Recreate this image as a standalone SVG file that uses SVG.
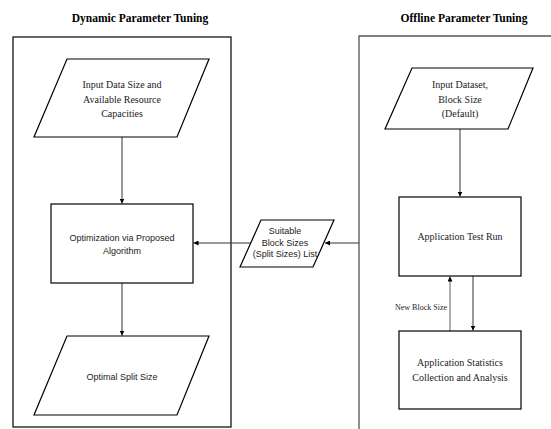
<svg xmlns="http://www.w3.org/2000/svg" width="551" height="429" viewBox="0 0 551 429">
<style>
.title{font-family:"Liberation Serif",serif;font-weight:bold;font-size:11.5px;fill:#000;text-anchor:middle}
.serif{font-family:"Liberation Serif",serif;font-size:10px;fill:#222;text-anchor:middle}
.sans{font-family:"Liberation Sans",sans-serif;font-size:9px;fill:#222;text-anchor:middle}
.shape{fill:#fff;stroke:#000;stroke-width:1.2}
.line{stroke:#333;stroke-width:1;fill:none}
.gline{stroke:#777;stroke-width:1.2;fill:none}
</style>
<defs>
<marker id="arr" viewBox="0 0 6 6" refX="6" refY="3" markerWidth="5" markerHeight="5" orient="auto" markerUnits="userSpaceOnUse">
<path d="M0,0 L6,3 L0,6 z" fill="#000"/>
</marker>
</defs>
<rect width="551" height="429" fill="#fff"/>
<g id="panel-dynamic">
<rect x="13" y="37" width="218" height="390" fill="none" stroke="#000" stroke-width="1.2"/>
<text class="title" x="140" y="22">Dynamic Parameter Tuning</text>
</g>
<g id="panel-offline">
<path d="M359,429 V36 H551" fill="none" stroke="#555" stroke-width="1.3"/>
<text class="title" x="464" y="22">Offline Parameter Tuning</text>
</g>
<g id="connectors">
<line class="line" x1="122" y1="137" x2="122" y2="203.5" marker-end="url(#arr)"/>
<line class="line" x1="122" y1="283" x2="122" y2="335.5" marker-end="url(#arr)"/>
<line class="line" x1="460" y1="129" x2="460" y2="196.5" marker-end="url(#arr)"/>
<line class="line" x1="473" y1="276" x2="473" y2="330.5" marker-end="url(#arr)"/>
<line class="gline" x1="450" y1="331" x2="450" y2="276.5" marker-end="url(#arr)"/>
<line class="line" x1="359" y1="243" x2="325" y2="243" marker-end="url(#arr)"/>
<line class="line" x1="251" y1="243" x2="193.5" y2="243" marker-end="url(#arr)"/>
<text x="447" y="310" font-family="Liberation Serif,serif" font-size="8" fill="#222" text-anchor="end">New Block Size</text>
</g>
<g id="input-data">
<polygon class="shape" points="67,59 209,59 177,137 34,137"/>
<text class="serif" x="122" y="88">Input Data Size and</text>
<text class="serif" x="122" y="103">Available  Resource</text>
<text class="serif" x="122" y="117">Capacities</text>
</g>
<g id="optimization">
<rect class="shape" x="51" y="204" width="142" height="79"/>
<text class="sans" x="122" y="241">Optimization via Proposed</text>
<text class="sans" x="122" y="254">Algorithm</text>
</g>
<g id="optimal-split">
<polygon class="shape" points="67,336 209,336 177,415 34,415"/>
<text class="sans" x="122" y="380">Optimal Split Size</text>
</g>
<g id="suitable-list">
<polygon class="shape" points="261,220 334,220 313,267 240,267"/>
<text class="sans" x="285" y="234">Suitable</text>
<text class="sans" x="285" y="246">Block Sizes</text>
<text class="sans" x="285" y="257">(Split Sizes) List</text>
</g>
<g id="input-dataset">
<polygon class="shape" points="412,68 533,68 508,129 385,129"/>
<text class="serif" x="460" y="88">Input Dataset,</text>
<text class="serif" x="460" y="103">Block Size</text>
<text class="serif" x="460" y="117">(Default)</text>
</g>
<g id="test-run">
<rect class="shape" x="399" y="197" width="122" height="79"/>
<text class="serif" x="460" y="240">Application Test Run</text>
</g>
<g id="statistics">
<rect class="shape" x="399" y="331" width="122" height="78"/>
<text class="serif" x="460" y="366">Application Statistics</text>
<text class="serif" x="460" y="381">Collection and Analysis</text>
</g>
</svg>
